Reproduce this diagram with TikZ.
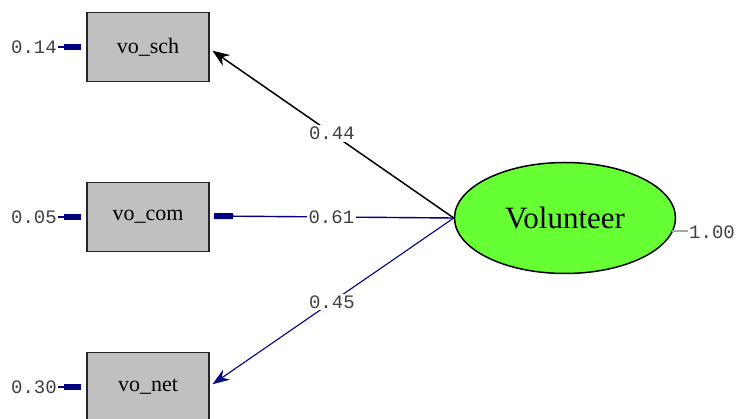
\documentclass[tikz,border=0pt]{standalone}
\usepackage{fontspec}
\setmainfont{Liberation Serif}
\newfontfamily\monof{Liberation Mono}
\usetikzlibrary{arrows.meta,shapes.geometric}
\definecolor{navyc}{RGB}{0,0,128}
\definecolor{boxgray}{RGB}{192,192,192}
\definecolor{volgreen}{RGB}{102,255,51}
\tikzset{
  obsbox/.style={draw=black!85, line width=1.3pt, fill=boxgray, minimum width=122pt, minimum height=69pt, inner sep=0pt, font=\fontsize{22}{22}\selectfont},
  latent/.style={ellipse, draw=black, line width=1.5pt, fill=volgreen, minimum width=221pt, minimum height=111pt, inner sep=0pt, font=\fontsize{31}{31}\selectfont},
  numlab/.style={font=\monof\fontsize{19}{19}\selectfont, text=black!75, inner sep=1pt},
  onlab/.style={numlab, fill=white, inner sep=2pt},
  errarrow/.style={navyc, line width=1.3pt, -{Rectangle[length=17pt,width=6pt]}, shorten >=5pt},
  pathblack/.style={black, line width=1.5pt, -{Stealth[length=17pt,width=13pt]}, shorten >=3pt},
  pathnavy/.style={navyc, line width=1.4pt, -{Rectangle[length=19pt,width=6pt]}, shorten >=5pt},
  pathnavyb/.style={navyc, line width=1.1pt, -{Stealth[length=17pt,width=12pt]}, shorten >=3pt},
}
\begin{document}
\begin{tikzpicture}[x=1pt,y=-1pt]
\useasboundingbox (0,0) rectangle (740,419);
\node[obsbox] (sch) at (148,47) {vo\_sch};
\node[obsbox] (com) at (148,217) {vo\_com};
\node[obsbox] (net) at (148,387) {vo\_net};
\node[latent] (vol) at (565,218) {Volunteer};
\node[numlab, anchor=east] (e1) at (58,47) {0.14};
\node[numlab, anchor=east] (e2) at (58,217) {0.05};
\node[numlab, anchor=east] (e3) at (58,387) {0.30};
\node[numlab, anchor=west] (v1) at (688,232) {1.00};
\coordinate (schtip) at (210,49);
\coordinate (comtip) at (209,216);
\coordinate (nettip) at (210,386);
\coordinate (volr) at (672,231);
\draw[errarrow] (e1.east) -- (sch.west);
\draw[errarrow] (e2.east) -- (com.west);
\draw[errarrow] (e3.east) -- (net.west);
\draw[pathblack] (vol.west) -- node[onlab, pos=0.5] (l1) {0.44} (schtip);
\draw[pathnavy] (vol.west) -- node[onlab, pos=0.5] (l2) {0.61} (comtip);
\draw[pathnavyb] (vol.west) -- node[onlab, pos=0.5] (l3) {0.45} (nettip);
\draw[gray!70, line width=1.3pt] (volr) -- (v1.west |- volr);
\end{tikzpicture}
\end{document}
